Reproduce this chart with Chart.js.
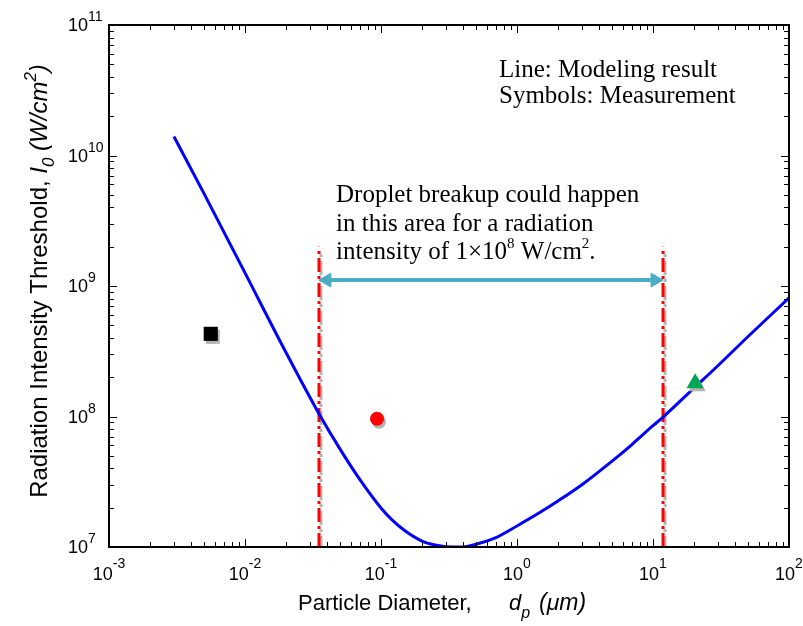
<!DOCTYPE html>
<html>
<head>
<meta charset="utf-8">
<script src="https://cdn.jsdelivr.net/npm/chart.js@4.4.0/dist/chart.umd.min.js"></script>
<style>
  html, body { margin: 0; padding: 0; background: #fff; }
  #wrap { width: 803px; height: 626px; }
</style>
</head>
<body>
<div id="wrap"><canvas id="c" width="803" height="626"></canvas></div>
<script>
// modelling curve (particle diameter in um, threshold in W/cm2)
var modelD = [0.003, 0.005, 0.01, 0.02, 0.035, 0.05, 0.07, 0.1, 0.12, 0.15, 0.2, 0.25, 0.3, 0.4, 0.5, 0.7,
              1, 1.5, 2, 3, 5, 7, 10, 12, 20, 30, 50, 100];
var modelI = [1.4e10, 5.1e9, 1.26e9, 3.1e8, 1.05e8, 5.62e7, 3.28e7, 1.99e7, 1.62e7, 1.33e7, 1.11e7, 1.035e7, 1.005e7, 1.0e7, 1.05e7, 1.18e7,
              1.45e7, 1.86e7, 2.25e7, 3.0e7, 4.55e7, 6.1e7, 8.5e7, 1.0e8, 1.65e8, 2.45e8, 4.1e8, 8.1e8];

// measurements
var squareD = [0.0056], squareI = [4.3e8];
var circleD = [0.0935], circleI = [9.6e7];
var triD = [20.4], triI = [1.8e8];

// breakup range
var limitD = [0.035, 11.85];
var limitI = [1e7, 2.0e9];
var arrowD = [0.04, 10.35];
var arrowI = 1.11e9;

// axes
var xExp = [-3, -2, -1, 0, 1, 2];
var yExp = [7, 8, 9, 10, 11];

function pts(xs, ys) {
  return xs.map(function (x, i) { return { x: x, y: ys[i] }; });
}

var SANS = '"Liberation Sans", Arial, sans-serif';
var SERIF = '"Liberation Serif", "Times New Roman", serif';

function runWidth(ctx, runs) {
  var w = 0;
  runs.forEach(function (r) {
    ctx.font = (r.it ? 'italic ' : '') + r.size + 'px ' + r.fam;
    w += ctx.measureText(r.t).width;
  });
  return w;
}
function drawRuns(ctx, runs, x, y) {
  var cx = x;
  runs.forEach(function (r) {
    ctx.font = (r.it ? 'italic ' : '') + r.size + 'px ' + r.fam;
    ctx.fillText(r.t, cx, y + (r.dy || 0));
    cx += ctx.measureText(r.t).width;
  });
}

// gray drop shadow for symbols and red lines
var shadowPlugin = {
  id: 'shadow',
  beforeDatasetDraw: function (chart, args) {
    var ds = chart.data.datasets[args.index];
    if (ds.shadow) {
      chart.ctx.save();
      chart.ctx.shadowColor = '#b4b4b4';
      chart.ctx.shadowOffsetX = 2;
      chart.ctx.shadowOffsetY = 3;
      chart.ctx.shadowBlur = 0;
    }
  },
  afterDatasetDraw: function (chart, args) {
    if (chart.data.datasets[args.index].shadow) chart.ctx.restore();
  }
};

var framePlugin = {
  id: 'frame',
  afterDraw: function (chart) {
    var ctx = chart.ctx, a = chart.chartArea;
    var xs = chart.scales.x, ys = chart.scales.y;
    ctx.save();
    ctx.strokeStyle = '#000';
    ctx.lineWidth = 1;
    ctx.beginPath();
    xExp.forEach(function (e, k) {
      for (var m = 1; m <= 9; m++) {
        if (k === xExp.length - 1 && m > 1) break;
        var px = Math.round(xs.getPixelForValue(m * Math.pow(10, e))) + 0.5;
        var len = m === 1 ? 8 : 5;
        ctx.moveTo(px, a.bottom); ctx.lineTo(px, a.bottom - len);
        ctx.moveTo(px, a.top); ctx.lineTo(px, a.top + len);
      }
    });
    yExp.forEach(function (e, k) {
      for (var m = 1; m <= 9; m++) {
        if (k === yExp.length - 1 && m > 1) break;
        var py = Math.round(ys.getPixelForValue(m * Math.pow(10, e))) + 0.5;
        var len = m === 1 ? 8 : 5;
        ctx.moveTo(a.left, py); ctx.lineTo(a.left + len, py);
        ctx.moveTo(a.right, py); ctx.lineTo(a.right - len, py);
      }
    });
    ctx.stroke();
    ctx.lineWidth = 2;
    ctx.strokeRect(a.left, a.top, a.right - a.left, a.bottom - a.top);

    ctx.fillStyle = '#000';
    ctx.textBaseline = 'alphabetic';
    ctx.textAlign = 'left';
    // tick labels
    xExp.forEach(function (e) {
      var px = xs.getPixelForValue(Math.pow(10, e));
      var runs = [{ t: '10', size: 18, fam: SANS }, { t: String(e), size: 14, fam: SANS, dy: -12 }];
      drawRuns(ctx, runs, px - runWidth(ctx, runs) / 2, 580);
    });
    yExp.forEach(function (e) {
      var py = ys.getPixelForValue(Math.pow(10, e));
      var runs = [{ t: '10', size: 18, fam: SANS }, { t: String(e), size: 14, fam: SANS, dy: -10 }];
      drawRuns(ctx, runs, 68, py + 6);
    });

    // x title
    drawRuns(ctx, [{ t: 'Particle Diameter,', size: 22, fam: SANS }], 298, 610);
    drawRuns(ctx, [
      { t: 'd', size: 22, fam: SANS, it: true },
      { t: 'p', size: 16, fam: SANS, it: true, dy: 8 }
    ], 509, 610);
    drawRuns(ctx, [{ t: '(\u03bcm)', size: 23, fam: SANS, it: true }], 539, 610);

    // y title
    var yt = [
      { t: 'Radiation Intensity Threshold, ', size: 24, fam: SANS },
      { t: 'I', size: 24, fam: SANS, it: true },
      { t: '0', size: 17, fam: SANS, it: true, dy: 7 },
      { t: ' (W/cm', size: 24, fam: SANS, it: true },
      { t: '2', size: 17, fam: SANS, it: true, dy: -11 },
      { t: ')', size: 24, fam: SANS, it: true }
    ];
    ctx.save();
    ctx.translate(47, 281);
    ctx.rotate(-Math.PI / 2);
    drawRuns(ctx, yt, -runWidth(ctx, yt) / 2, 0);
    ctx.restore();

    // annotations
    ctx.font = '25px ' + SERIF;
    ctx.fillText('Line: Modeling result', 499, 77);
    ctx.fillText('Symbols: Measurement', 499, 103);
    ctx.fillText('Droplet breakup could happen', 336, 202);
    ctx.fillText('in this area for a radiation', 336, 231);
    drawRuns(ctx, [
      { t: 'intensity of 1\u00d710', size: 25, fam: SERIF },
      { t: '8', size: 15, fam: SERIF, dy: -11 },
      { t: ' W/cm', size: 25, fam: SERIF },
      { t: '2', size: 15, fam: SERIF, dy: -11 },
      { t: '.', size: 25, fam: SERIF }
    ], 336, 259);
    ctx.restore();
  }
};

new Chart(document.getElementById('c'), {
  type: 'line',
  data: {
    datasets: [
      {
        label: 'Modeling result',
        data: pts(modelD, modelI),
        borderColor: '#0000ff',
        borderWidth: 3,
        pointRadius: 0,
        cubicInterpolationMode: 'monotone',
        order: 2
      },
      {
        label: 'lower limit',
        data: pts([limitD[0], limitD[0]], limitI),
        borderColor: '#ff0000',
        borderWidth: 3,
        borderDash: [14, 4, 3, 4],
        pointRadius: 0,
        shadow: true,
        order: 3
      },
      {
        label: 'upper limit',
        data: pts([limitD[1], limitD[1]], limitI),
        borderColor: '#ff0000',
        borderWidth: 3,
        borderDash: [14, 4, 3, 4],
        pointRadius: 0,
        shadow: true,
        order: 3
      },
      {
        label: 'breakup range',
        data: pts(arrowD, [arrowI, arrowI]),
        borderColor: '#4bacc6',
        backgroundColor: '#4bacc6',
        borderWidth: 4,
        pointStyle: 'triangle',
        pointRotation: [-90, 90],
        pointRadius: 8,
        pointBorderWidth: 1,
        order: 1
      },
      {
        label: 'square',
        data: pts(squareD, squareI),
        showLine: false,
        pointStyle: 'rect',
        pointRadius: 10,
        pointBackgroundColor: '#000',
        pointBorderWidth: 0,
        shadow: true,
        order: 0
      },
      {
        label: 'circle',
        data: pts(circleD, circleI),
        showLine: false,
        pointStyle: 'circle',
        pointRadius: 7,
        pointBackgroundColor: '#ff0000',
        pointBorderWidth: 0,
        shadow: true,
        order: 0
      },
      {
        label: 'triangle',
        data: pts(triD, triI),
        showLine: false,
        pointStyle: 'triangle',
        pointRadius: 10,
        pointBackgroundColor: '#00a651',
        pointBorderWidth: 0,
        shadow: true,
        order: 0
      }
    ]
  },
  options: {
    responsive: false,
    animation: false,
    devicePixelRatio: 1,
    layout: { padding: { left: 109, right: 14, top: 25, bottom: 79 } },
    plugins: { legend: { display: false }, tooltip: { enabled: false } },
    scales: {
      x: { type: 'logarithmic', min: 1e-3, max: 1e2, display: false },
      y: { type: 'logarithmic', min: 1e7, max: 1e11, display: false }
    }
  },
  plugins: [shadowPlugin, framePlugin]
});
</script>
</body>
</html>
